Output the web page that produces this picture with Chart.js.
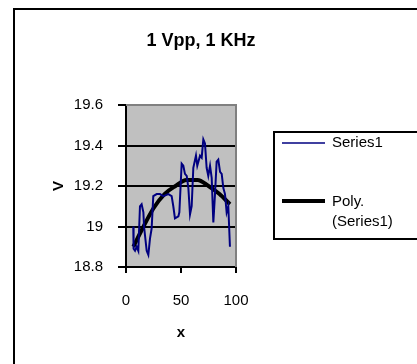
<!DOCTYPE html>
<html>
<head>
<meta charset="utf-8">
<script src="https://cdn.jsdelivr.net/npm/chart.js@4/dist/chart.umd.min.js"></script>
<style>
  html, body { margin: 0; padding: 0; background: #fff; }
  #wrap { width: 417px; height: 364px; }
</style>
</head>
<body>
<div id="wrap"><canvas id="vppChart" width="417" height="364"></canvas></div>
<script>
const chartTitle = "1 Vpp, 1 KHz";
const xTitle = "x";
const yTitle = "V";
const xTicks = [0, 50, 100];
const yTicks = [18.8, 19, 19.2, 19.4, 19.6];

const seriesLabel = "Series1";
const seriesX = [6.6, 6.9, 8.2, 9.7, 11.2, 12.7, 14.2, 15.8, 16.4, 18.8, 20.3, 21.8, 23.3, 24.8, 27.9, 30.9, 33.9,
  38.5, 41.5, 43.0, 44.5, 47.6, 48.5, 50.6, 52.1, 53.6, 55.2, 56.7, 58.2, 59.7, 61.2, 63.6, 64.8, 67.3,
  68.8, 70.3, 71.8, 73.3, 74.8, 76.4, 77.9, 79.4, 80.9, 82.4, 83.9, 85.5, 87.0, 88.5, 90.0, 91.5, 93.0, 94.5];
const seriesY = [19.00, 18.89, 18.88, 18.90, 18.88, 19.10, 19.11, 19.07, 19.00, 18.88, 18.86, 18.94, 18.99, 19.15, 19.16, 19.16, 19.15,
  19.16, 19.15, 19.10, 19.04, 19.05, 19.07, 19.31, 19.30, 19.26, 19.25, 19.19, 19.06, 19.10, 19.29, 19.35, 19.30, 19.35,
  19.34, 19.43, 19.41, 19.29, 19.25, 19.30, 19.24, 19.02, 19.16, 19.32, 19.33, 19.27, 19.26, 19.19, 19.16, 19.07, 19.10, 18.90];

// polynomial trendline
const trendLabel = ["Poly.", "(Series1)"];
const trendX = [6.7, 15, 25, 35, 45, 55, 65, 75, 85, 94.5];
const trendY = [18.90, 18.99, 19.09, 19.16, 19.20, 19.23, 19.23, 19.20, 19.16, 19.11];

const FONT = "'Liberation Sans', Arial, sans-serif";

const excelLook = {
  id: "excelLook",
  beforeDraw(chart) {
    const { ctx, chartArea: a } = chart;
    ctx.save();
    ctx.fillStyle = "#c0c0c0";
    ctx.fillRect(a.left, a.top, a.right - a.left, a.bottom - a.top);
    ctx.restore();
  },
  afterDraw(chart) {
    const { ctx, chartArea: a } = chart;
    ctx.save();
    // plot area top/right border
    ctx.strokeStyle = "#808080";
    ctx.lineWidth = 2;
    ctx.beginPath();
    ctx.moveTo(a.left, a.top);
    ctx.lineTo(a.right, a.top);
    ctx.lineTo(a.right, a.bottom);
    ctx.stroke();

    // outer frame
    ctx.strokeStyle = "#000";
    ctx.lineWidth = 2;
    ctx.beginPath();
    ctx.moveTo(14, 370);
    ctx.lineTo(14, 9);
    ctx.lineTo(420, 9);
    ctx.stroke();

    // title
    ctx.fillStyle = "#000";
    ctx.font = "bold 18px " + FONT;
    ctx.textAlign = "center";
    ctx.textBaseline = "middle";
    ctx.fillText(chartTitle, 201, 41);

    // legend box
    ctx.lineWidth = 2;
    ctx.beginPath();
    ctx.moveTo(420, 132);
    ctx.lineTo(274, 132);
    ctx.lineTo(274, 239);
    ctx.lineTo(420, 239);
    ctx.stroke();

    const ds = chart.data.datasets;
    ctx.font = "15px " + FONT;
    ctx.textAlign = "left";
    ctx.textBaseline = "middle";
    ctx.strokeStyle = ds[0].borderColor;
    ctx.lineWidth = 1.5;
    ctx.beginPath();
    ctx.moveTo(282, 143);
    ctx.lineTo(325, 143);
    ctx.stroke();
    ctx.fillText(seriesLabel, 332, 143);

    ctx.strokeStyle = ds[1].borderColor;
    ctx.lineWidth = ds[1].borderWidth;
    ctx.beginPath();
    ctx.moveTo(282, 201);
    ctx.lineTo(325, 201);
    ctx.stroke();
    ctx.fillText(trendLabel[0], 332, 202);
    ctx.fillText(trendLabel[1], 332, 222);
    ctx.restore();
  }
};

new Chart(document.getElementById("vppChart"), {
  type: "line",
  data: {
    datasets: [
      {
        label: seriesLabel,
        data: seriesX.map((x, i) => ({ x: x, y: seriesY[i] })),
        borderColor: "#000080",
        borderWidth: 2,
        pointRadius: 0,
        tension: 0
      },
      {
        label: trendLabel.join(" "),
        data: trendX.map((x, i) => ({ x: x, y: trendY[i] })),
        borderColor: "#000000",
        borderWidth: 4,
        pointRadius: 0,
        cubicInterpolationMode: "monotone"
      }
    ]
  },
  plugins: [excelLook],
  options: {
    responsive: false,
    animation: false,
    layout: { padding: { left: 0, top: 105, right: 181, bottom: 0 } },
    plugins: {
      legend: { display: false },
      title: { display: false },
      tooltip: { enabled: false }
    },
    scales: {
      x: {
        type: "linear",
        min: 0,
        max: 100,
        afterBuildTicks: (s) => { s.ticks = xTicks.map(v => ({ value: v })); },
        afterFit: (s) => { s.height = 97; },
        grid: { drawOnChartArea: false, drawTicks: true, tickLength: 6, color: "#000", lineWidth: 2 },
        border: { color: "#000", width: 2 },
        ticks: { color: "#000", font: { family: FONT, size: 15 }, padding: 19, maxRotation: 0 },
        title: { display: true, text: xTitle, color: "#000", font: { family: FONT, size: 15, weight: "bold" }, padding: { top: 0, bottom: 22 } }
      },
      y: {
        type: "linear",
        min: 18.8,
        max: 19.6,
        afterBuildTicks: (s) => { s.ticks = yTicks.map(v => ({ value: v })); },
        afterFit: (s) => { s.width = 126; },
        grid: { drawOnChartArea: true, drawTicks: true, tickLength: 8, color: "#000", lineWidth: 2 },
        border: { color: "#000", width: 2 },
        ticks: { color: "#000", font: { family: FONT, size: 15 }, padding: 15, callback: (v) => String(+v.toFixed(1)) },
        title: { display: true, text: yTitle, color: "#000", font: { family: FONT, size: 15, weight: "bold" }, padding: { top: 50, bottom: 0 } }
      }
    }
  }
});
</script>
</body>
</html>
